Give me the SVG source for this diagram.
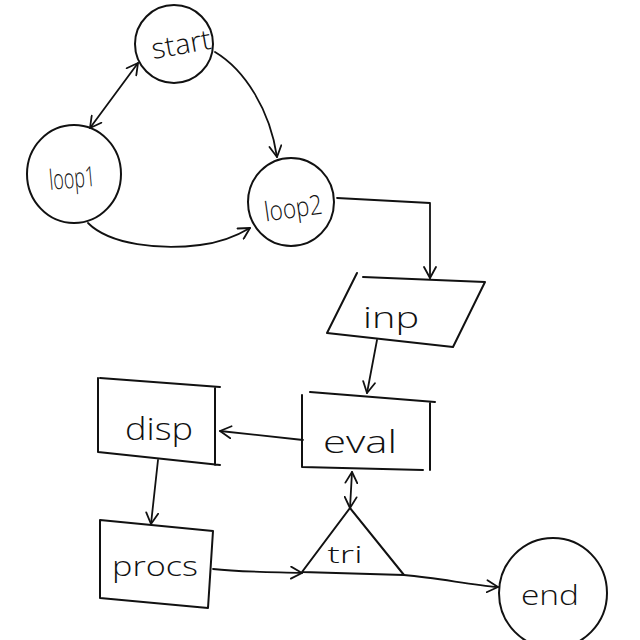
<svg xmlns="http://www.w3.org/2000/svg" width="640" height="640" viewBox="0 0 640 640">
<defs>
<style>
.shape{fill:none;stroke:#111;stroke-width:2;stroke-linecap:round;stroke-linejoin:round}
.edge{fill:none;stroke:#111;stroke-width:1.8;stroke-linecap:round;stroke-linejoin:round}
.lbl{font-family:"Open Sans","DejaVu Sans",sans-serif;font-weight:300;fill:#111;text-anchor:middle;dominant-baseline:central}
</style>
<marker id="arr" viewBox="0 0 14 14" refX="12" refY="7" markerWidth="14" markerHeight="14" markerUnits="userSpaceOnUse" orient="auto-start-reverse">
<path d="M1,1 L12,7 L1,13" fill="none" stroke="#111" stroke-width="1.8" stroke-linecap="round" stroke-linejoin="round"/>
</marker>
</defs>
<rect width="640" height="640" fill="#fff"/>
<g id="connectors">
<path class="edge" d="M215,52 C245,70 270,110 277,157" marker-end="url(#arr)"/>
<path class="edge" d="M138,63 L90,128" marker-start="url(#arr)" marker-end="url(#arr)"/>
<path class="edge" d="M88,223 C110,245 160,250 200,245 C225,242 240,234 250,228" marker-end="url(#arr)"/>
<path class="edge" d="M337,198 L430,203 L430,278" marker-end="url(#arr)"/>
<path class="edge" d="M377,340 L367,393" marker-end="url(#arr)"/>
<path class="edge" d="M303,440 L220,431" marker-end="url(#arr)"/>
<path class="edge" d="M158,460 L151,524" marker-end="url(#arr)"/>
<path class="edge" d="M352,472 L350,508" marker-start="url(#arr)" marker-end="url(#arr)"/>
<path class="edge" d="M213,569 C240,572 270,572 302,573" marker-end="url(#arr)"/>
<path class="edge" d="M404,575 C440,578 470,585 498,587" marker-end="url(#arr)"/>
</g>
<g id="start">
<ellipse class="shape" cx="174" cy="44" rx="39" ry="39"/>
<text class="lbl" x="181" y="43" font-size="28" textLength="60" lengthAdjust="spacingAndGlyphs" transform="rotate(-10 181 43)">start</text>
</g>
<g id="loop1">
<ellipse class="shape" cx="74" cy="174" rx="47" ry="49"/>
<text class="lbl" x="72" y="177" font-size="28" textLength="46" lengthAdjust="spacingAndGlyphs" transform="rotate(-5 72 177)">loop1</text>
</g>
<g id="loop2">
<ellipse class="shape" cx="291" cy="202" rx="43" ry="44"/>
<text class="lbl" x="293" y="207" font-size="27" textLength="58" lengthAdjust="spacingAndGlyphs" transform="rotate(-8 293 207)">loop2</text>
</g>
<g id="inp">
<path class="shape" d="M363,277 L485,282 L453,347 L327,333 L357,273"/>
<text class="lbl" x="391" y="316" font-size="30" textLength="56" lengthAdjust="spacingAndGlyphs">inp</text>
</g>
<g id="eval">
<path class="shape" d="M310,392 L435,402 M302,395 L302,467 L423,470 M430,402 L430,470"/>
<text class="lbl" x="360" y="440" font-size="32" textLength="74" lengthAdjust="spacingAndGlyphs">eval</text>
</g>
<g id="disp">
<path class="shape" d="M100,378 L220,387 M98,378 L98,452 L220,465 M215,387 L215,465"/>
<text class="lbl" x="159" y="427" font-size="32" textLength="68" lengthAdjust="spacingAndGlyphs">disp</text>
</g>
<g id="procs">
<path class="shape" d="M100,520 L213,531 L208,608 L100,598 Z"/>
<text class="lbl" x="155" y="565" font-size="28" textLength="86" lengthAdjust="spacingAndGlyphs">procs</text>
</g>
<g id="tri">
<path class="shape" d="M350,508 L404,575 L302,572 Z"/>
<text class="lbl" x="345" y="553" font-size="24" textLength="35" lengthAdjust="spacingAndGlyphs">tri</text>
</g>
<g id="end">
<ellipse class="shape" cx="553" cy="593" rx="54" ry="55"/>
<text class="lbl" x="550" y="594" font-size="28" textLength="58" lengthAdjust="spacingAndGlyphs">end</text>
</g>
</svg>
